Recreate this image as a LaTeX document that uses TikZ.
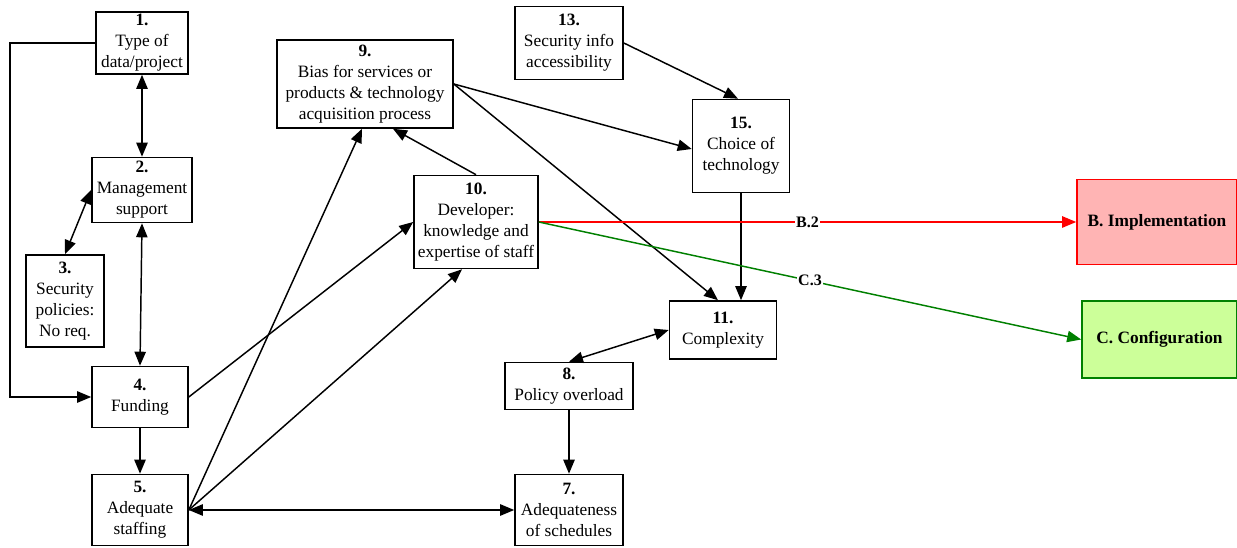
\documentclass[tikz,border=0pt]{standalone}
\usepackage{fontspec}
\setmainfont{Liberation Serif}
\usetikzlibrary{arrows.meta}
\definecolor{implfill}{RGB}{255,180,180}
\definecolor{implline}{RGB}{255,0,0}
\definecolor{conffill}{RGB}{204,255,153}
\definecolor{confline}{RGB}{0,128,0}
\begin{document}
\begin{tikzpicture}[x=0.75pt,y=-0.75pt,
  box/.style={draw,line width=1.2pt,fill=white,align=center,inner sep=0pt,
    font=\fontsize{13}{15.75}\selectfont},
  outcome/.style={draw,line width=1.2pt,align=center,inner sep=0pt,
    font=\fontsize{13}{15.75}\selectfont\bfseries},
  tip/.style={-{Triangle[length=10.5pt,width=8.5pt]}},
  both/.style={{Triangle[length=10.5pt,width=8.5pt]}-{Triangle[length=10.5pt,width=8.5pt]}},
  link/.style={line width=1.1pt},
  elabel/.style={fill=white,inner sep=1pt,font=\fontsize{12}{14}\selectfont\bfseries}]
\useasboundingbox[fill=white] (0,0) rectangle (1237,548);

% factor boxes
\node[box,minimum width=69pt,minimum height=46.5pt] (n1) at (142,43) {\textbf{1.}\\Type of\\data/project};
\node[box,minimum width=75pt,minimum height=48.75pt] (n2) at (142,190) {\textbf{2.}\\Management\\support};
\node[box,minimum width=58.5pt,minimum height=69pt] (n3) at (65,301) {\textbf{3.}\\Security\\policies:\\No req.};
\node[box,minimum width=72pt,minimum height=45.75pt] (n4) at (140,397) {\textbf{4.}\\Funding};
\node[box,minimum width=72pt,minimum height=53.25pt] (n5) at (140,510) {\textbf{5.}\\Adequate\\staffing};
\node[box,minimum width=132pt,minimum height=66pt] (n9) at (365,84) {\textbf{9.}\\Bias for services or\\products \& technology\\acquisition process};
\node[box,minimum width=93pt,minimum height=69.75pt] (n10) at (476,222) {\textbf{10.}\\Developer:\\knowledge and\\expertise of staff};
\node[box,minimum width=81pt,minimum height=54.75pt] (n13) at (569,43) {\textbf{13.}\\Security info\\accessibility};
\node[box,minimum width=72.75pt,minimum height=69.75pt] (n15) at (741,146) {\textbf{15.}\\Choice of\\technology};
\node[box,minimum width=80.25pt,minimum height=43.5pt] (n11) at (723,330) {\textbf{11.}\\Complexity};
\node[box,minimum width=96pt,minimum height=35.25pt] (n8) at (569,386) {\textbf{8.}\\Policy overload};
\node[box,minimum width=81pt,minimum height=53.25pt] (n7) at (569,510) {\textbf{7.}\\Adequateness\\of schedules};

% outcome boxes
\node[outcome,draw=implline,fill=implfill,minimum width=120pt,minimum height=63.75pt] (B) at (1157,222) {B. Implementation};
\node[outcome,draw=confline,fill=conffill,minimum width=116.25pt,minimum height=57.75pt] (C) at (1159.5,339.5) {C. Configuration};

% influences
\draw[link,tip] (n1.west) -- ++(-85,0) |- (n4.west);
\draw[link,both] (n1.south) -- (n2.north);
\draw[link,both] (n2.west) -- (n3.north);
\draw[link,both] (n2.south) -- (n4.north);
\draw[link,tip] (n4.south) -- (n5.north);
\draw[link,tip] (n4.east) -- (n10.west);
\draw[link,tip] (n5.east) -- ([xshift=-2.25pt]n9.south);
\draw[link,tip] (n5.east) -- ([xshift=-10.5pt]n10.south);
\draw[link,both] (n5.east) -- (n7.west);
\draw[link,tip] (n10.north) -- ([xshift=21pt]n9.south);
\draw[link,tip] (n9.east) -- ([yshift=-2.25pt]n15.west);
\draw[link,tip] (n9.east) -- ([xshift=-3.75pt]n11.north);
\draw[link,tip] (n13.east) -- ([xshift=-2.25pt]n15.north);
\draw[link,tip] (n15.south) -- (n15.south |- n11.north);
\draw[link,both] (n11.west) -- (n8.north);
\draw[link,tip] (n8.south) -- (n7.north);

% outcome links
\draw[link,tip,draw=implline,fill=implline] (n10.east) -- node[elabel] {B.2} (B.west);
\draw[link,tip,draw=confline,fill=confline] (n10.east) -- node[elabel] {C.3} (C.west);
\end{tikzpicture}
\end{document}
